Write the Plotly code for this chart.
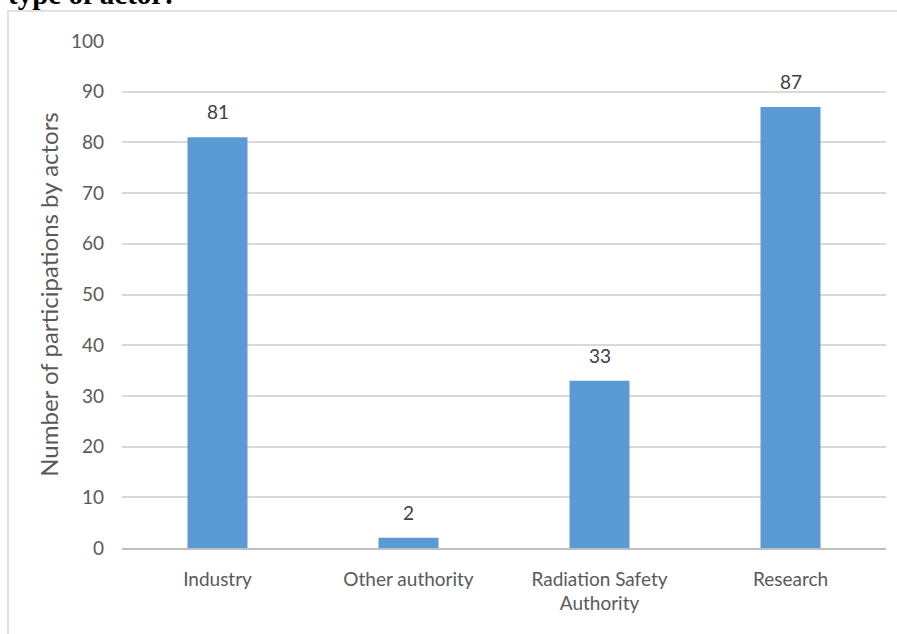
import plotly.graph_objects as go

categories = ["Industry", "Other authority", "Radiation Safety<br>Authority", "Research"]
participations = [81, 2, 33, 87]
y_ticks = [0, 10, 20, 30, 40, 50, 60, 70, 80, 90, 100]

W, H = 897, 634
L, R, T, B = 122, 11, 41, 86
pw, ph = W - L - R, H - T - B

SANS = "Lato, 'Open Sans', sans-serif"

fig = go.Figure()
fig.add_trace(go.Bar(
    x=categories,
    y=participations,
    marker=dict(color="#5b9bd5", line=dict(width=0)),
    width=0.314,
    hoverinfo="x+y",
))

# value labels above each bar
for c, v in zip(categories, participations):
    fig.add_annotation(
        x=c, y=v, text=str(v), showarrow=False,
        yanchor="bottom", yshift=12,
        font=dict(family=SANS, size=19, color="#404040"),
    )

# heading fragment above the chart frame
fig.add_annotation(
    xref="paper", yref="paper",
    x=(6 - L) / pw, y=(H - B - 12) / ph,
    xanchor="left", yanchor="bottom",
    text="<b>type of actor:</b>", showarrow=False,
    font=dict(family="'Liberation Serif', 'Times New Roman', serif", size=29, color="#000000"),
)

# chart frame
fig.add_shape(
    type="rect", xref="paper", yref="paper",
    x0=(8 - L) / pw, x1=(W + 20 - L) / pw,
    y0=(H - B - (H + 20)) / ph, y1=(H - B - 11) / ph,
    line=dict(color="#d9d9d9", width=1.5), fillcolor="rgba(0,0,0,0)", layer="below",
)

fig.update_layout(
    width=W, height=H,
    margin=dict(l=L, r=R, t=T, b=B),
    paper_bgcolor="white", plot_bgcolor="white",
    showlegend=False,
    font=dict(family=SANS, color="#595959"),
    xaxis=dict(
        showline=True, linecolor="#bfbfbf", linewidth=1.5,
        showgrid=False, ticks="",
        tickfont=dict(size=19, color="#595959"),
        ticklabelstandoff=13,
        range=[-0.5, 3.5],
    ),
    yaxis=dict(
        range=[0, 100], tickvals=y_ticks,
        showgrid=True, gridcolor="#d9d9d9", gridwidth=1.5,
        zeroline=False, showline=False, ticks="",
        tickfont=dict(size=19, color="#595959"),
        ticklabelstandoff=17,
        title=dict(text="Number of participations by actors",
                   font=dict(size=24, color="#595959"), standoff=5),
    ),
)

fig.write_html("out.html")
